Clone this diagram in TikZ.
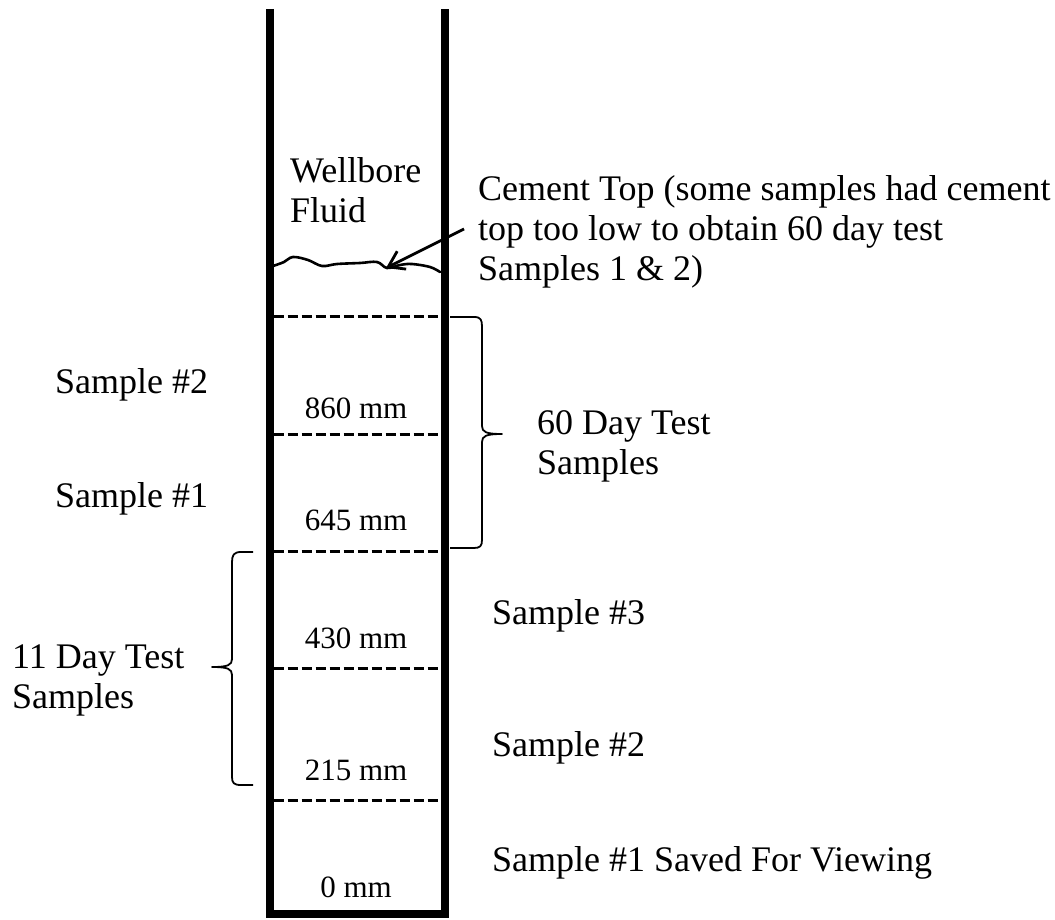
\documentclass[tikz,border=0pt]{standalone}
\usepackage{fontspec}
\setmainfont{Liberation Serif}
\usetikzlibrary{arrows.meta}
\begin{document}
\begin{tikzpicture}[x=1pt,y=-1pt,
  label/.style={inner sep=0pt,anchor=base west,font=\fontsize{36}{40}\selectfont,align=left},
  depth/.style={inner sep=0pt,anchor=base,font=\fontsize{31}{36}\selectfont},
  wall/.style={line width=8pt,line join=miter},
  cut/.style={line width=3pt,dash pattern=on 10pt off 4pt},
  bracket/.style={line width=1.8pt,line join=round},
  pointer/.style={line width=2.8pt,-{Straight Barb[length=15pt,width=20pt,line width=2.8pt]}}]
\useasboundingbox (0,0) rectangle (1055,920);

% casing walls (open at the top)
\draw[wall] (269.5,9) -- (269.5,914) -- (444.5,914) -- (444.5,9);

% section cuts
\foreach \yy in {316,434,551,668,800}
  \draw[cut] (273.5,\yy) -- (440.5,\yy);

% cement top surface
\draw[line width=2.6pt,line cap=round] plot[smooth,tension=0.6] coordinates
  {(273,266) (284,262) (293,257) (308,260) (322,266) (337,264) (360,263) (377,262) (387,268) (400,265) (412,264) (430,267) (440,272)};
\coordinate (surf) at (386,268);

% labels inside and beside the casing (base = last line)
\node[label] (fluid) at (290,223) {Wellbore\\Fluid};
\node[label] (cement) at (478,280) {Cement Top (some samples had cement\\top too low to obtain 60 day test\\Samples 1 \& 2)};
\coordinate (tail) at (464,229);
\draw[pointer] (tail) -- (surf);

\node[depth] (d860) at (356,418) {860 mm};
\node[depth] (d645) at (356,530) {645 mm};
\node[depth] (d430) at (356,648) {430 mm};
\node[depth] (d215) at (356,780) {215 mm};
\node[depth] (d0)   at (356,897) {0 mm};

\node[label] (s2a) at (55,393) {Sample \#2};
\node[label] (s1a) at (55,507) {Sample \#1};
\node[label] (long) at (537,474) {60 Day Test\\Samples};
\node[label] (s3) at (492,624) {Sample \#3};
\node[label] (short) at (12,708) {11 Day Test\\Samples};
\node[label] (s2b) at (492,756) {Sample \#2};
\node[label] (s1b) at (492,871) {Sample \#1 Saved For Viewing};

% braces grouping the test samples
\draw[bracket] (450,317) -- (474,317) .. controls (481,317) and (482,320) .. (482,327)
  -- (482,426) .. controls (482,432) and (486,434) .. (502,434)
  .. controls (486,434) and (482,436) .. (482,442)
  -- (482,540) .. controls (482,546) and (480,548) .. (474,548) -- (450,548);
\draw[bracket] (253,552) -- (241,552) .. controls (234,552) and (232,555) .. (232,562)
  -- (232,659) .. controls (232,665) and (228,667) .. (212,667)
  .. controls (228,667) and (232,669) .. (232,675)
  -- (232,777) .. controls (232,783) and (234,785) .. (241,785) -- (253,785);
\end{tikzpicture}
\end{document}
